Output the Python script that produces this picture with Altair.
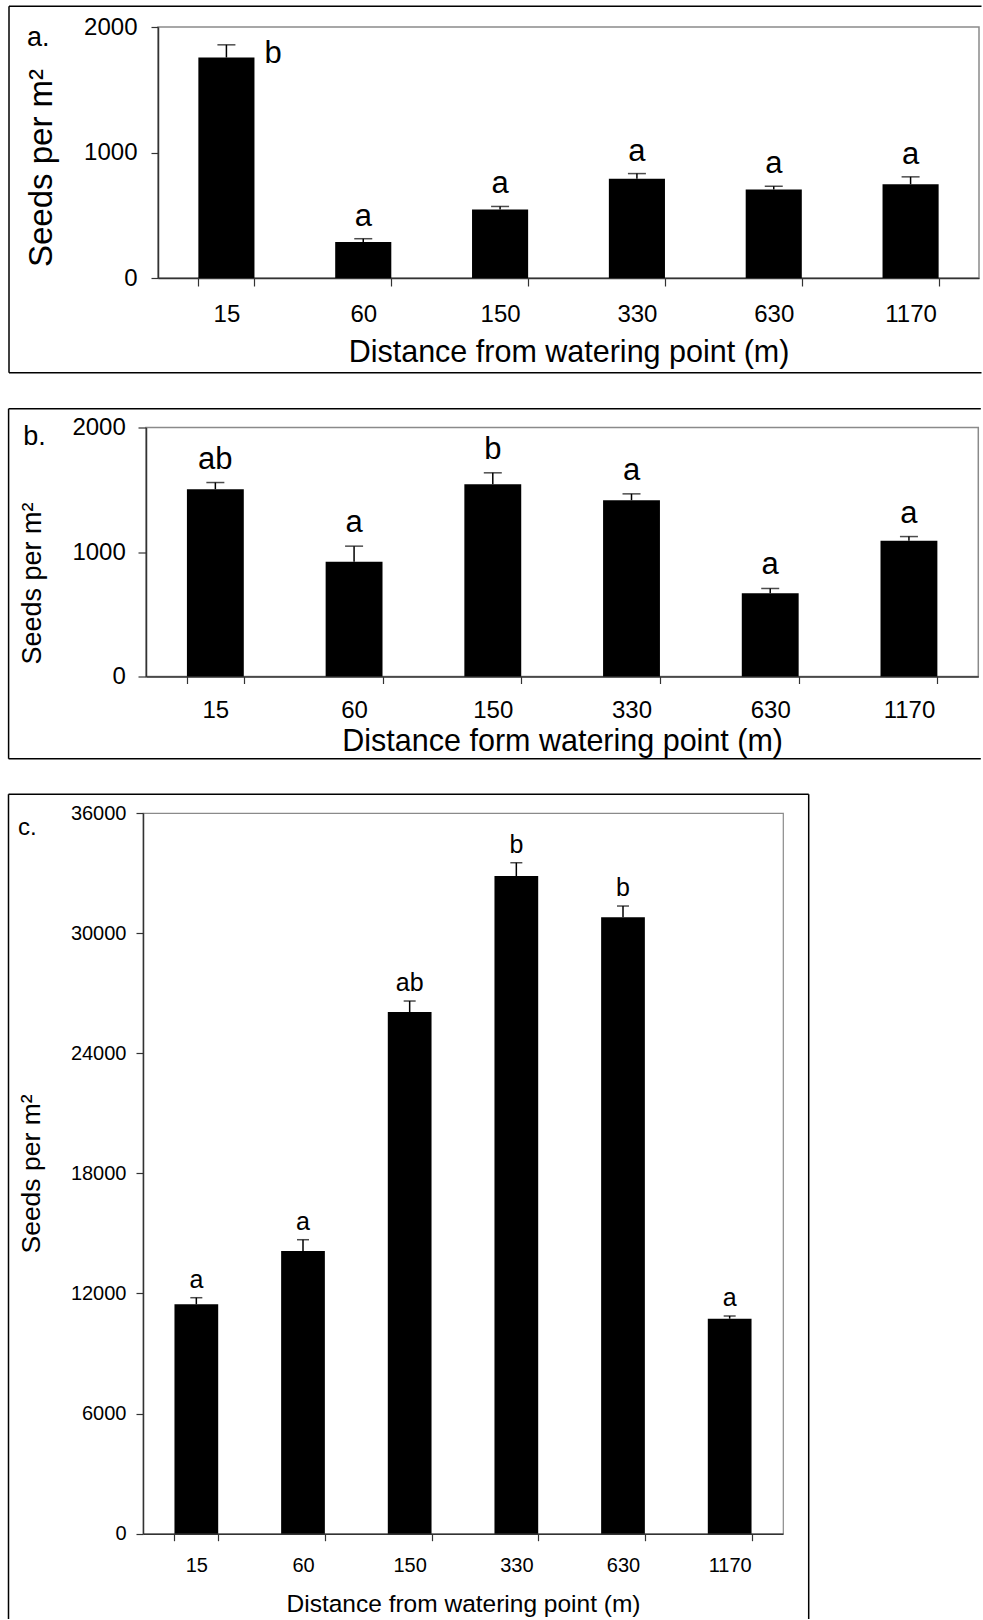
import altair as alt
import pandas as pd

FONT = "Liberation Sans"

distances = ["15", "60", "150", "330", "630", "1170"]

# Panel a
a_means = [1757, 286, 546, 790, 705, 747]
a_se = [101, 27, 24, 42, 26, 59]
a_letters = ["b", "a", "a", "a", "a", "a"]
a_sides = ["right", "top", "top", "top", "top", "top"]

# Panel b
b_means = [1504, 921, 1545, 1416, 669, 1090]
b_se = [54, 126, 91, 51, 38, 34]
b_letters = ["ab", "a", "b", "a", "a", "a"]
b_sides = ["top", "top", "top", "top", "top", "top"]

# Panel c
c_means = [11458, 14121, 26059, 32852, 30789, 10739]
c_se = [330, 564, 549, 664, 564, 135]
c_letters = ["a", "a", "ab", "b", "b", "a"]
c_sides = ["top", "top", "top", "top", "top", "top"]

a_ticks = [0, 1000, 2000]
b_ticks = [0, 1000, 2000]
c_ticks = [0, 6000, 12000, 18000, 24000, 30000, 36000]

one = alt.Data(values=[{"k": 1}])


def make_panel(means, ses, letters, sides, g):
    df = pd.DataFrame({"distance": distances, "mean": means, "se": ses,
                       "letter": letters, "side": sides})
    df["upper"] = df["mean"] + df["se"]
    base = alt.Chart(df)

    xscale = alt.Scale(paddingInner=0.59, paddingOuter=0.295)
    xaxis = alt.Axis(title=g["xtitle"], labelAngle=0, tickBand="extent",
                     tickSize=g["xtick"], labelPadding=g["xlp"],
                     labelFontSize=g["xlf"], titleFontSize=g["xtf"],
                     titleY=g["xty"], titleBaseline="alphabetic",
                     titleFontWeight="normal", domainColor="#333333",
                     tickColor="#333333", domainWidth=1.5, tickWidth=1.2,
                     labelColor="black", titleColor="black",
                     labelFont=FONT, titleFont=FONT)
    yscale = alt.Scale(domain=[0, g["ymax"]], nice=False, zero=True)
    yaxis = alt.Axis(title="Seeds per m²", values=g["yticks"], format="d",
                     grid=False, tickSize=g["ytick"], labelPadding=g["ylp"],
                     labelFontSize=g["ylf"], titleFontSize=g["ytf"],
                     titleX=g["ytx"], titleY=g["yty"], titleAlign="center",
                     titleBaseline="alphabetic", titleFontWeight="normal",
                     domainColor="#333333", tickColor="#333333",
                     domainWidth=1.5, tickWidth=1.2, labelColor="black",
                     titleColor="black", labelFont=FONT, titleFont=FONT)

    def X():
        return alt.X("distance:N", sort=distances, scale=xscale, axis=xaxis)

    def Y(field):
        return alt.Y(field, scale=yscale, axis=yaxis)

    bars = base.mark_bar(color="black").encode(x=X(), y=Y("mean:Q"))
    stems = base.mark_rule(color="black", strokeWidth=1.5).encode(
        x=X(), y=Y("mean:Q"), y2="upper:Q")
    caps = base.mark_tick(color="black", thickness=1.5, size=g["cap"]).encode(
        x=X(), y=Y("upper:Q"))
    top_letters = base.transform_filter(alt.datum.side == "top").mark_text(
        font=FONT, fontSize=g["letf"], baseline="alphabetic", dy=g["letdy"],
        color="black").encode(x=X(), y=Y("upper:Q"), text="letter:N")
    right_letters = base.transform_filter(alt.datum.side == "right").mark_text(
        font=FONT, fontSize=g["letf"], baseline="alphabetic", align="left",
        dx=38, dy=6, color="black").encode(x=X(), y=Y("mean:Q"), text="letter:N")

    fr = g["frame"]
    frame_layers = []
    frame_layers.append(alt.Chart(one).mark_rule(color="black", strokeWidth=1.5).encode(
        x=alt.value(fr["left"]), x2=alt.value(fr["right"]), y=alt.value(fr["top"])))
    if "bottom" in fr:
        frame_layers.append(alt.Chart(one).mark_rule(color="black", strokeWidth=1.5).encode(
            x=alt.value(fr["left"]), x2=alt.value(fr["right"]), y=alt.value(fr["bottom"])))
    frame_layers.append(alt.Chart(one).mark_rule(color="black", strokeWidth=1.5).encode(
        x=alt.value(fr["left"]), y=alt.value(fr["top"]), y2=alt.value(fr["ylow"])))
    if fr.get("rightline"):
        frame_layers.append(alt.Chart(one).mark_rule(color="black", strokeWidth=1.5).encode(
            x=alt.value(fr["right"]), y=alt.value(fr["top"]), y2=alt.value(fr["ylow"])))

    label = alt.Chart(one).mark_text(font=FONT, fontSize=g["plf"], align="left",
                                     baseline="alphabetic", color="black").encode(
        x=alt.value(g["plx"]), y=alt.value(g["ply"]), text=alt.value(g["pl"]))

    return alt.layer(bars, stems, caps, top_letters, right_letters, label,
                     *frame_layers).properties(width=g["W"], height=g["H"],
                                                view=alt.ViewConfig(stroke="#8a8a8a", strokeWidth=g["vsw"]))


def spacer():
    return alt.Chart(one).mark_text(text="", opacity=0).encode(
        x=alt.value(0), y=alt.value(0)).properties(
        width=1, height=1, view=alt.ViewConfig(stroke="transparent", strokeWidth=0))


ga = dict(W=821, H=251, ymax=2000, yticks=a_ticks,
          xtitle="Distance from watering point (m)", xtick=8, xlp=16, xlf=24, xtf=30.5, xty=83,
          ytick=7, ylp=14, ylf=24, ytf=33, ytx=-107, yty=140.5,
          cap=18, letf=31, letdy=-13, pl="a.", plx=-131, ply=19.3, plf=27, vsw=1.5,
          frame=dict(left=-149, right=823.5, top=-20.7, bottom=345.8, ylow=345.8))
gb = dict(W=832.3, H=249, ymax=2000, yticks=b_ticks,
          xtitle="Distance form watering point (m)", xtick=7, xlp=15, xlf=24, xtf=30.5, xty=74,
          ytick=8, ylp=12.7, ylf=24, ytf=27, ytx=-105.7, yty=155.5,
          cap=18, letf=31, letdy=-14, pl="b.", plx=-122.7, ply=17, plf=27, vsw=1.5,
          frame=dict(left=-137.4, right=834.8, top=-18.7, bottom=331.3, ylow=331.3))
gc = dict(W=640, H=720.7, ymax=36000, yticks=c_ticks,
          xtitle="Distance from watering point (m)", xtick=7, xlp=15, xlf=20, xtf=24.5, xty=77.5,
          ytick=7, ylp=10, ylf=20, ytf=26.5, ytx=-103.3, yty=360.5,
          cap=12, letf=25, letdy=-10, pl="c.", plx=-125, ply=22, plf=24, vsw=1.2,
          frame=dict(left=-134.5, right=665.7, top=-18.7, ylow=806, rightline=True))

pa = make_panel(a_means, a_se, a_letters, a_sides, ga)
pb = make_panel(b_means, b_se, b_letters, b_sides, gb)
pc = make_panel(c_means, c_se, c_letters, c_sides, gc)

chart = alt.vconcat(
    alt.hconcat(spacer(), pa, spacing=0),
    alt.hconcat(spacer(), pb, spacing=0),
    alt.hconcat(spacer(), pc, spacing=0),
    spacing=31.5,
).properties(
    padding={"left": 6, "top": 4, "right": 0, "bottom": 0},
    background="white",
).configure_view(stroke="#8a8a8a")

chart.save("out.html", embed_options={"renderer": "svg", "actions": False})
